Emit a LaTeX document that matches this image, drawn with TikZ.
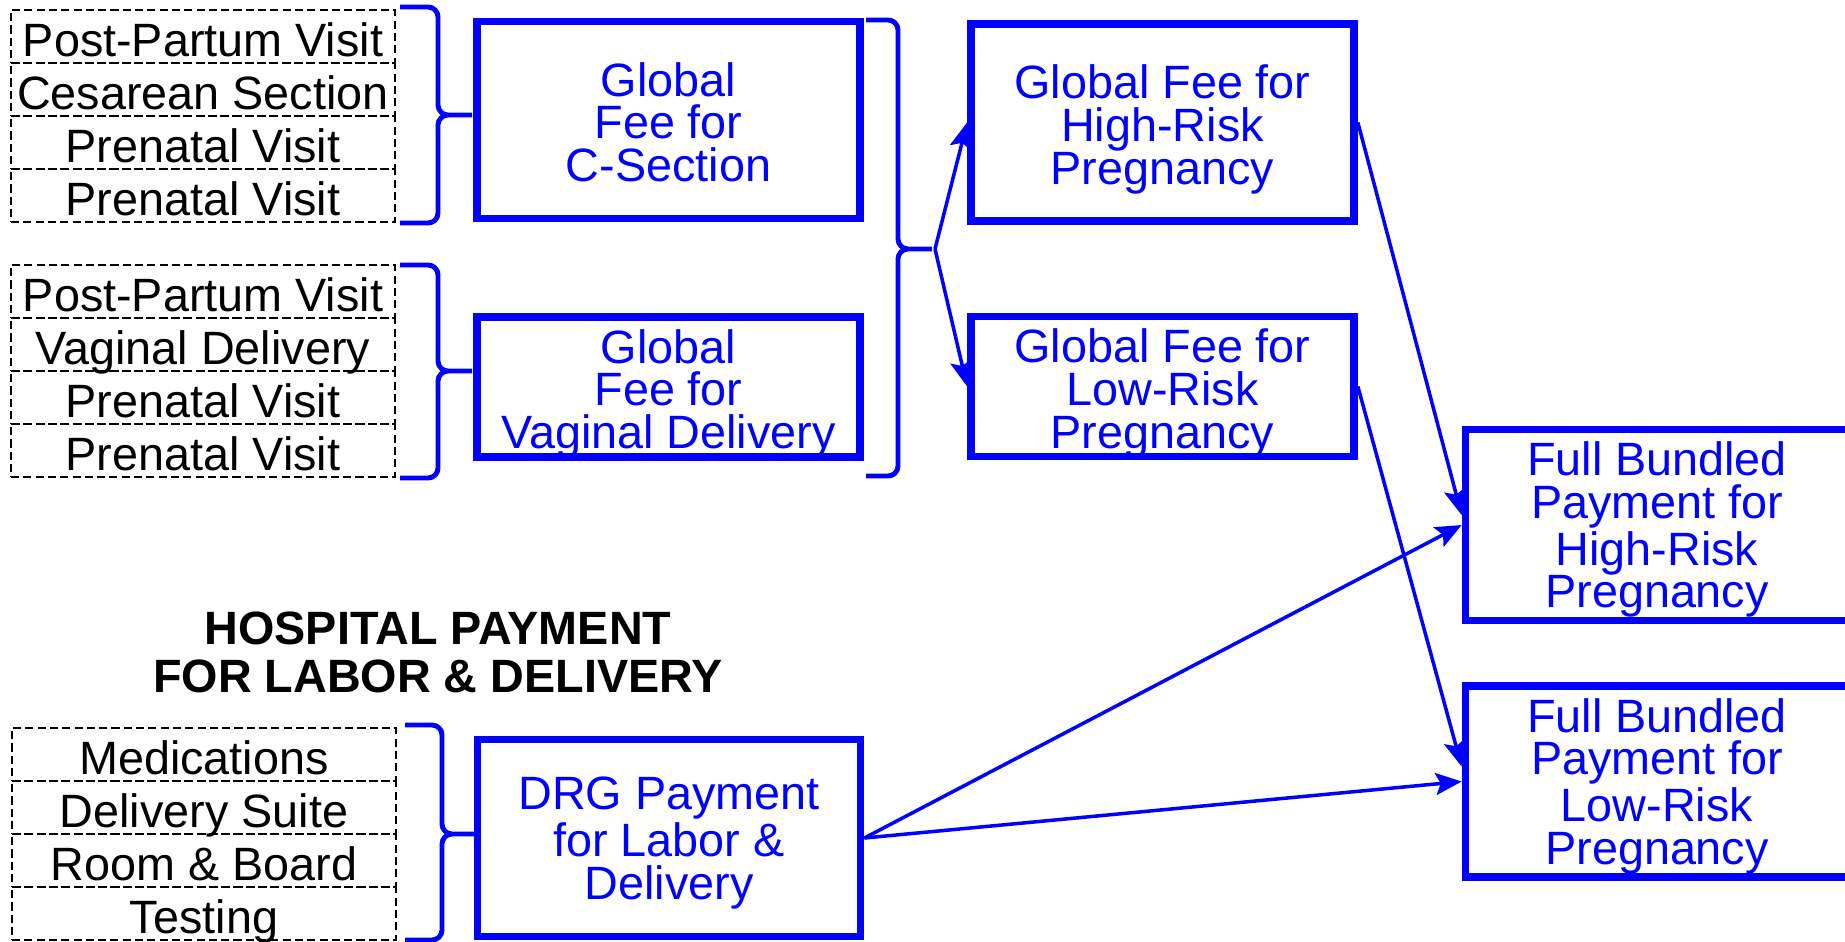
\documentclass[tikz,border=0pt]{standalone}
\usepackage{fontspec}
\setmainfont{Liberation Sans}
\usetikzlibrary{arrows.meta,positioning}

\begin{document}
\begin{tikzpicture}[
    item/.style={draw, dash pattern=on 2.3pt off 1.2pt, line width=0.6pt,
                 minimum width=3.84cm, minimum height=0.53cm, inner sep=0pt,
                 outer sep=0pt, text height=0.44cm, text depth=0.04cm,
                 font=\fontsize{13.3}{12.1}\selectfont},
    fee/.style={draw=blue, line width=2.2pt, minimum width=3.83cm,
                inner sep=0pt, align=center, text=blue,
                text height=1.31cm, text depth=0.08cm,
                font=\fontsize{13.3}{12.1}\selectfont},
    fee4/.style={fee, text height=1.735cm},
    brc/.style={blue, line width=1.4pt, rounded corners=0.1cm},
    arr/.style={-{Stealth[length=0.26cm, width=0.22cm, inset=0.05cm]},
                blue, line width=1pt},
    ttl/.style={align=center, font=\fontsize{13.3}{13.7}\selectfont\bfseries},
  ]
  \useasboundingbox (0,0) rectangle (18.45,-9.41);

  % physician services
  \node[item] (c1) at (2.03,-0.365) {Post-Partum Visit};
  \node[item, below=0pt of c1] (c2) {Cesarean Section};
  \node[item, below=0pt of c2] (c3) {Prenatal Visit};
  \node[item, below=0pt of c3] (c4) {Prenatal Visit};

  \node[item] (v1) at (2.03,-2.915) {Post-Partum Visit};
  \node[item, below=0pt of v1] (v2) {Vaginal Delivery};
  \node[item, below=0pt of v2] (v3) {Prenatal Visit};
  \node[item, below=0pt of v3] (v4) {Prenatal Visit};

  % hospital services
  \node[ttl] (title) at (4.38,-6.52) {HOSPITAL PAYMENT\\FOR LABOR \& DELIVERY};
  \node[item] (h1) at (2.04,-7.545) {Medications};
  \node[item, below=0pt of h1] (h2) {Delivery Suite};
  \node[item, below=0pt of h2] (h3) {Room \& Board};
  \node[item, below=0pt of h3] (h4) {Testing};

  \node[fee, minimum height=1.97cm] (cs) at (6.685,-1.20) {Global\\Fee for\\C-Section};
  \node[fee, minimum height=1.40cm] (vag) at (6.685,-3.87) {Global\\Fee for\\Vaginal Delivery};
  \node[fee, minimum height=1.97cm] (drg) at (6.69,-8.38) {DRG Payment\\for Labor \&\\Delivery};

  \node[fee, minimum height=1.97cm] (hr) at (11.625,-1.225) {Global Fee for\\High-Risk\\Pregnancy};
  \node[fee, minimum height=1.40cm] (lr) at (11.625,-3.865) {Global Fee for\\Low-Risk\\Pregnancy};

  \node[fee4, minimum height=1.91cm] (fbh) at (16.57,-5.25) {Full Bundled\\Payment for\\High-Risk\\Pregnancy};
  \node[fee4, minimum height=1.91cm] (fbl) at (16.57,-7.815) {Full Bundled\\Payment for\\Low-Risk\\Pregnancy};

  % braces
  \draw[brc] (4.00,-0.07) -| (4.38,-1.15) -- (4.72,-1.15)
             (4.00,-2.23) -| (4.38,-1.15) -- (4.72,-1.15);
  \draw[brc] (4.00,-2.65) -| (4.38,-3.71) -- (4.72,-3.71)
             (4.00,-4.78) -| (4.38,-3.71) -- (4.72,-3.71);
  \draw[brc] (4.05,-7.25) -| (4.42,-8.34) -- (4.74,-8.34)
             (4.05,-9.40) -| (4.42,-8.34) -- (4.74,-8.34);
  \draw[brc] (8.66,-0.20) -| (8.98,-2.49) -- (9.32,-2.49)
             (8.66,-4.76) -| (8.98,-2.49) -- (9.32,-2.49);
  \coordinate (fork) at (9.35,-2.49);

  \draw[arr] (fork) -- (hr.west);
  \draw[arr] (fork) -- (lr.west);
  \draw[arr] (hr.east) -- ([yshift=1mm]fbh.west);
  \draw[arr] (drg.east) -- (fbh.west);
  \draw[arr] (lr.east) -- ([yshift=1.5mm]fbl.west);
  \draw[arr] (drg.east) -- (fbl.west);
\end{tikzpicture}
\end{document}
